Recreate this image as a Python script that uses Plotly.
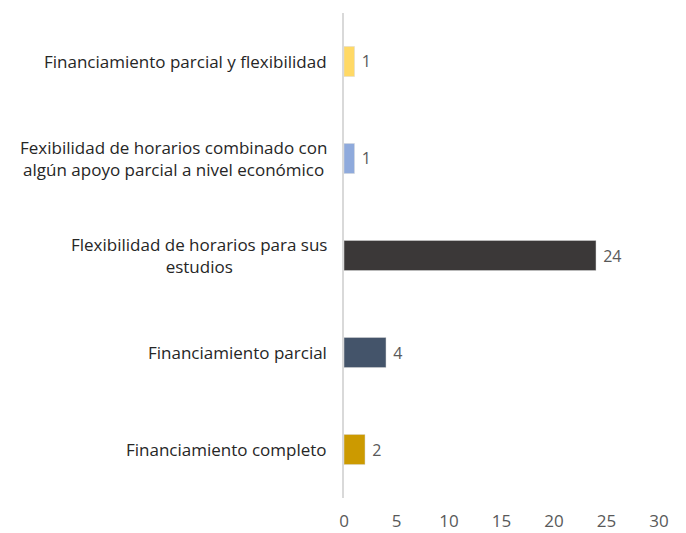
import plotly.graph_objects as go

categories = [
    "Financiamiento completo",
    "Financiamiento parcial",
    "Flexibilidad de horarios para sus<br>estudios",
    "Fexibilidad de horarios combinado con<br>algún apoyo parcial a nivel económico",
    "Financiamiento parcial y flexibilidad",
]
values = [2, 4, 24, 1, 1]
colors = ["#CC9A00", "#44546A", "#3B3838", "#8FAADC", "#FFD966"]
x_ticks = [0, 5, 10, 15, 20, 25, 30]

fig = go.Figure()
fig.add_trace(go.Bar(
    y=categories, x=values, orientation="h",
    marker=dict(color=colors, line=dict(color="#d9d9d9", width=0.5)),
    width=0.31,
    text=[" " + str(v) for v in values], textposition="outside",
    textfont=dict(family="Open Sans", size=16, color="#595959"),
    cliponaxis=False,
))

for c in categories:
    fig.add_annotation(
        x=0, y=c, xref="x", yref="y", text=c, showarrow=False,
        xanchor="right", yanchor="middle", align="center", xshift=-15,
        font=dict(family="Open Sans", size=17, color="#262626"),
    )

fig.update_layout(
    width=678, height=525,
    margin=dict(l=336, r=27, t=5, b=35),
    paper_bgcolor="white", plot_bgcolor="white",
    showlegend=False,
    bargap=0.69,
    xaxis=dict(range=[0, 30], tickvals=x_ticks, showgrid=False, zeroline=False,
               showline=False, ticks="", ticklabelstandoff=11, automargin=False,
               tickfont=dict(family="Open Sans", size=17, color="#595959")),
    yaxis=dict(categoryorder="array", categoryarray=categories, showticklabels=False,
               showgrid=False, zeroline=False, showline=True, linecolor="#d9d9d9",
               linewidth=1.5, ticks="", automargin=False),
)
fig.write_html("out.html")
